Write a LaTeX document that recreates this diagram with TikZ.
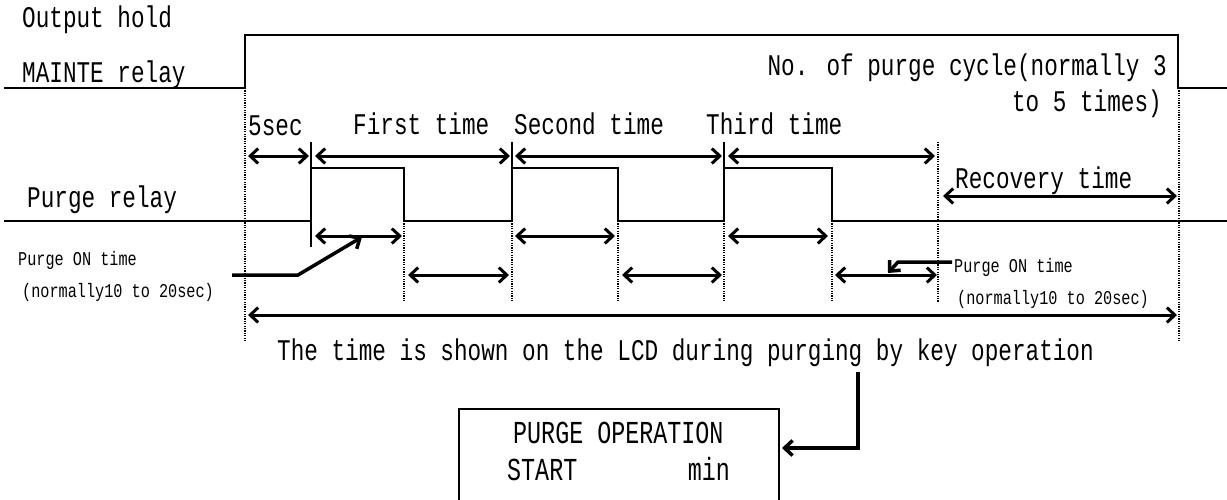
\documentclass[tikz,border=0pt]{standalone}
\usepackage{fontspec}
\setmainfont{Liberation Mono}[FakeStretch=0.756]
\newfontfamily\smallfont{Liberation Mono}[FakeStretch=0.78]
\newfontfamily\lcdfont{Liberation Mono}[FakeStretch=0.73]
\usetikzlibrary{arrows.meta}
\begin{document}
\begin{tikzpicture}[x=1pt,y=-1pt,
  sig/.style={line width=1.5pt},
  dots/.style={line width=2.4pt, dash pattern=on 1.2pt off 1.2pt},
  dim/.style={line width=3pt, {Straight Barb[length=8pt,width=15pt]}-{Straight Barb[length=8pt,width=15pt]}},
  ptr/.style={line width=3.5pt, -{Straight Barb[length=8pt,width=15pt]}},
  lbl/.style={inner sep=0pt, anchor=base west, font=\fontsize{30}{32}\selectfont},
  small/.style={inner sep=0pt, anchor=base west, font=\smallfont\fontsize{19.5}{21}\selectfont},
  lcd/.style={inner sep=0pt, anchor=base west, font=\lcdfont\fontsize{32}{34}\selectfont},
]
\useasboundingbox (0,0) rectangle (1227,499);
% signal lines
\draw[sig] (4,88) -- (245,88) -- (245,35) -- (1178,35) -- (1178,88) -- (1227,88);
\draw[sig] (4,221) -- (311,221) -- (311,168) -- (404,168) -- (404,221) -- (512,221)
  -- (512,168) -- (618,168) -- (618,221) -- (724,221) -- (724,168) -- (832,168)
  -- (832,221) -- (1227,221);
\draw[sig] (311,142) -- (311,247);
\draw[sig] (512,142) -- (512,168);
\draw[sig] (724,142) -- (724,168);
% dotted markers
\draw[dots] (245,88) -- (245,342);
\draw[dots] (1179,88) -- (1179,342);
\foreach \x in {404,512,618,724,832} \draw[dots] (\x,221) -- (\x,302);
\draw[dots] (938,142) -- (938,302);
% dimension arrows
\draw[dim] (248,156) -- (309,156);
\draw[dim] (315,156) -- (510,156);
\draw[dim] (515,156) -- (722,156);
\draw[dim] (728,156) -- (935,156);
\draw[dim] (943,196) -- (1177,196);
\draw[dim] (315,236) -- (402,236);
\draw[dim] (515,236) -- (615,236);
\draw[dim] (728,236) -- (828,236);
\draw[dim] (408,275) -- (509,275);
\draw[dim] (622,275) -- (722,275);
\draw[dim] (835,275) -- (937,275);
\draw[dim] (248,315) -- (1177,315);
% labels
\node[lbl] (oh) at (22,27) {Output hold};
\node[lbl] (mr) at (22,82) {MAINTE relay};
\node[lbl] (pr) at (27,207) {Purge relay};
\node[lbl] (t0) at (248,135) {5sec};
\node[lbl] (t1) at (353,134) {First time};
\node[lbl] (t2) at (514,134) {Second time};
\node[lbl] (t3) at (706,134) {Third time};
\node[lbl, anchor=base east] (nc1) at (1167,75) {No. of purge cycle(normally 3};
\node[lbl, anchor=base east] (nc2) at (1162,111) {to 5 times)};
\node[lbl] (rt) at (955,188) {Recovery time};
\node[small] (pl1) at (18,265) {Purge ON time};
\node[small] (pl2) at (22,297) {(normally10 to 20sec)};
\node[small] (pr1) at (954,272) {Purge ON time};
\node[small] (pr2) at (957,304) {(normally10 to 20sec)};
\node[lbl] (lcdtext) at (277,360) {The time is shown on the LCD during purging by key operation};
% pointers
\coordinate (pla) at (232,275);
\coordinate (plb) at (298,275);
\coordinate (plc) at (362,237);
\draw[ptr] (pla) -- (plb) -- (plc);
\coordinate (pra) at (952,262);
\coordinate (prb) at (898,262);
\coordinate (prc) at (888,273);
\draw[ptr] (pra) -- (prb) -- (prc);
% LCD box
\node[draw, sig, minimum width=320pt, minimum height=120pt, anchor=north west, inner sep=0pt] (box) at (458,408) {};
\node[lcd] (l1) at (513,443) {PURGE OPERATION};
\node[lcd] (l2) at (507,480) {START};
\node[lcd, anchor=base east] (l3) at (730,480) {min};
\coordinate (ls) at (858,372);
\coordinate (le) at (782,448);
\draw[ptr] (ls) |- (le);
\end{tikzpicture}
\end{document}
